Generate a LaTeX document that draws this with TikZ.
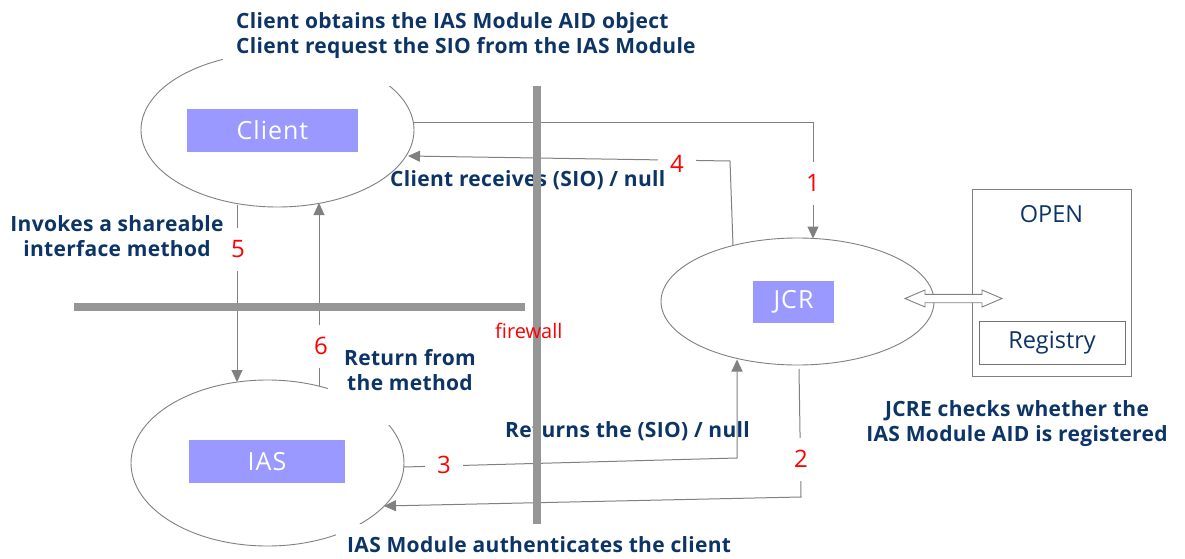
\documentclass[tikz,border=0pt]{standalone}
\usepackage{fontspec}
\setmainfont{Open Sans}
\newfontfamily\notefont{Open Sans}[LetterSpace=1.5]
\newfontfamily\tagfont{Open Sans}[LetterSpace=4]
\usetikzlibrary{shapes.geometric,arrows.meta}
\definecolor{navy}{RGB}{12,52,102}
\definecolor{wire}{RGB}{128,128,128}
\definecolor{barc}{RGB}{150,150,150}
\definecolor{boxc}{RGB}{153,153,255}
\definecolor{numc}{RGB}{255,0,0}
\tikzset{
  proc/.style={draw=wire, line width=0.9pt, ellipse, inner sep=0pt},
  tag/.style={fill=boxc, text=white, inner sep=0pt, font=\tagfont\fontsize{25}{25}\selectfont},
  frame/.style={draw=wire, line width=1pt, inner sep=0pt},
  wireline/.style={draw=wire, line width=1pt},
  flow/.style={wireline, -{Triangle[length=12pt,width=11pt]}},
  num/.style={fill=white, text=numc, inner sep=0pt, minimum width=38pt,
    minimum height=43pt, font=\fontsize{24}{24}\selectfont},
  note/.style={text=navy, inner sep=0pt, align=center,
    font=\notefont\fontsize{21}{25.5}\selectfont\bfseries},
  plain/.style={text=navy, inner sep=0pt, font=\fontsize{23.5}{24}\selectfont},
  bar/.style={fill=barc, draw=none},
}
\begin{document}
\begin{tikzpicture}[x=1pt,y=-1pt]
\useasboundingbox (0,0) rectangle (1185,559);
\fill[white] (0,0) rectangle (1185,559);

% processes
\node[proc, minimum width=273pt, minimum height=154pt] (client) at (277.5,130) {};
\node[proc, minimum width=273pt, minimum height=127pt] (jcr) at (797.5,301.5) {};
\node[proc, minimum width=273pt, minimum height=166pt] (ias) at (267.5,463) {};

% OPEN platform with its registry
\node[frame, minimum width=159pt, minimum height=187pt] (open) at (1051.5,282.5) {};
\node[plain, anchor=base] (openlbl) at (1051.5,222) {OPEN};
\node[frame, draw=wire!90!black, minimum width=146pt, minimum height=43pt, plain] (registry) at (1052,342.5) {Registry};

% connector end points on the ellipses
\coordinate (c1) at (414,123);
\coordinate (j1) at (813,238.5);
\coordinate (j4) at (733,245.5);
\coordinate (k4) at (730,161);
\coordinate (c4) at (408,156);
\coordinate (c5) at (237,205);
\coordinate (i5) at (237,382);
\coordinate (i6) at (319,386);
\coordinate (c6) at (319,203);
\coordinate (i3) at (404,467);
\coordinate (k3) at (737,458);
\coordinate (j3) at (737,359.5);
\coordinate (j2) at (799,369);
\coordinate (k2) at (801,497);
\coordinate (i2) at (384,506);

% message flows
\draw[flow] (c1) -| (j1);
\draw[flow] (j4) -- (k4) -- (c4);
\draw[flow] (c5) -- (i5);
\draw[flow] (i6) -- (c6);
\draw[flow] (i3) -- (k3) -- (j3);
\draw[flow] (j2) -- (k2) -- (i2);

% step numbers
\node[num] (n1) at (813,183) {1};
\node[num] (n2) at (801,459) {2};
\node[num] (n3) at (444,465) {3};
\node[num] (n4) at (677,164) {4};
\node[num] (n5) at (238,249) {5};
\node[num] (n6) at (321,346) {6};

% descriptions
\node[note, anchor=base west] (recv) at (390,186) {Client receives (SIO) / null};
\node[note, anchor=base west] (rets) at (505,437) {Returns the (SIO) / null};
\node[note, anchor=north] (invk) at (117,215) {Invokes a shareable\\interface method};
\node[note, anchor=north] (chk) at (1017,400) {JCRE checks whether the\\IAS Module AID is registered};

% firewall
\fill[bar] (533,86) rectangle (541,524);
\fill[bar] (74,303) rectangle (525,311);
\node[text=numc, inner sep=0pt, anchor=base west, font=\fontsize{20}{20}\selectfont] (fw) at (495,338) {firewall};

% captions on white boxes
\fill[white] (223,0) rectangle (712,86);
\node[note, align=left, anchor=north west] (top) at (236,12) {Client obtains the IAS Module AID object\\Client request the SIO from the IAS Module};
\fill[white] (328,335) rectangle (495,425);
\node[note, anchor=north] (retm) at (410,349) {Return from\\the method};
\fill[white] (336,524) rectangle (740,559);
\node[note, anchor=base west] (auth) at (347,552) {IAS Module authenticates the client};

% names
\node[tag, minimum width=171pt, minimum height=43pt] (clientbox) at (272.5,130.5) {Client};
\node[tag, minimum width=81pt, minimum height=42pt] (jcrbox) at (793.5,302) {JCR};
\node[tag, minimum width=156pt, minimum height=43pt] (iasbox) at (267,461.5) {IAS};

% two-way link between JCR and OPEN
\draw[wire, fill=white, line width=0.9pt]
  (905,298.5) -- (925,290) -- (925,294.3) -- (982,294.3) -- (982,290) -- (1002,298.5)
  -- (982,307) -- (982,302.7) -- (925,302.7) -- (925,307) -- cycle;
\end{tikzpicture}
\end{document}
